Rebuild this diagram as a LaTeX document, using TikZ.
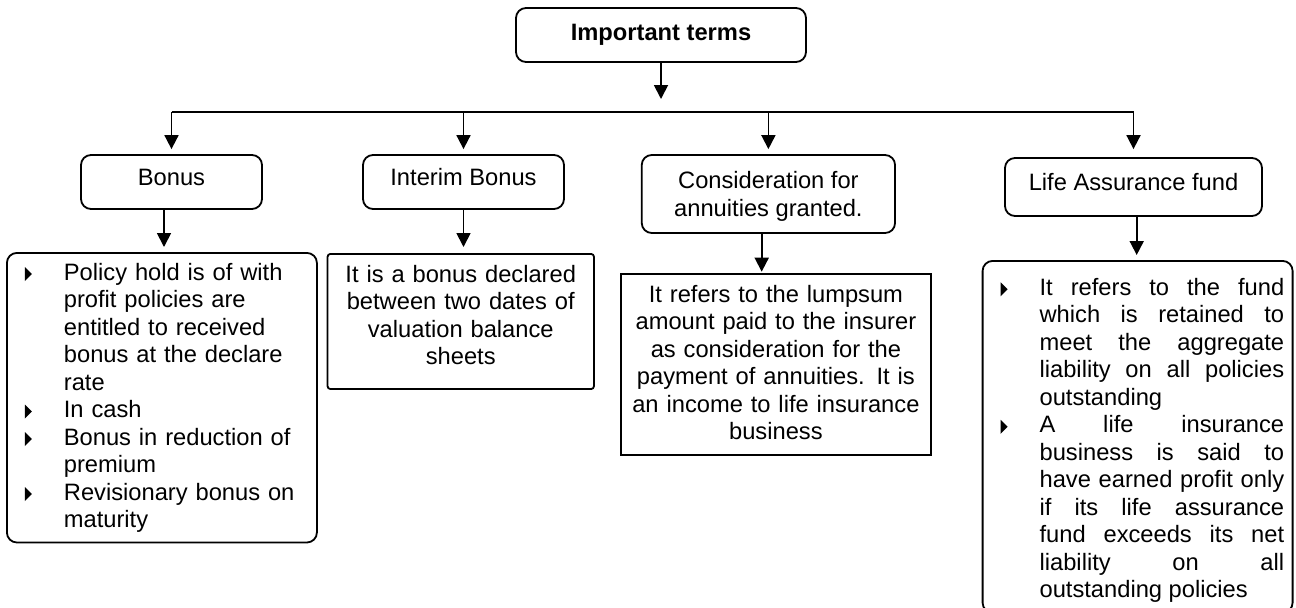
\documentclass[tikz,border=0pt]{standalone}
\usepackage{fontspec}
\setmainfont{Liberation Sans}
\usetikzlibrary{arrows.meta}

% small black triangle used as list bullet
\newcommand{\bultri}{\tikz[baseline=0pt, sharp corners, x=1pt, y=1pt]\fill (0,-0.5)--(3.5,3)--(0,6.5)--cycle;}
% start a bulleted paragraph with a hanging indent
\newcommand{\bitem}{\noindent\hangindent=28.5pt\hangafter=1\makebox[28.5pt][l]{\hspace{9pt}\bultri}}

\tikzset{
  txt/.style={font=\fontsize{11.85pt}{13.75pt}\selectfont},
  headbox/.style={txt, draw, line width=0.9pt, rounded corners=5pt, align=center},
  onebox/.style={headbox, text height=8.5pt, text depth=5.5pt},
  listbox/.style={txt, draw, line width=0.9pt, rounded corners=5pt, anchor=north west,
    inner xsep=0pt, inner ysep=5pt, text width=155pt},
  descbox/.style={txt, draw, line width=0.9pt, anchor=north, align=center,
    inner xsep=4pt, inner ysep=5.6pt},
  arr/.style={line width=0.9pt, -{Triangle[length=7pt,width=7pt]}}
}

\begin{document}
\begin{tikzpicture}[x=0.5pt, y=-0.5pt]
  \useasboundingbox (0,0) rectangle (1296,607);

  % root
  \node[headbox, minimum width=145pt, minimum height=27pt, font=\fontsize{11.85pt}{13.75pt}\selectfont\bfseries]
    (top) at (661,35) {Important terms};
  \coordinate (split) at (661,99);
  \coordinate (hl) at (173,112);

  % second level
  \node[onebox, minimum width=90.5pt, minimum height=27pt] (bonus) at (171.5,182) {Bonus};
  \node[onebox, minimum width=100.5pt, minimum height=27pt] (interim) at (463.5,182) {Interim Bonus};
  \node[headbox, minimum width=126.65pt, minimum height=39pt] (consid) at (768.4,194)
    {Consideration for\\\raisebox{0pt}[\height][0pt]{annuities granted.}};
  \node[onebox, minimum width=128.5pt, minimum height=29pt] (life) at (1133.5,187) {Life Assurance fund};

  % third level
  \node[listbox] (bonuslist) at (6,252) {%
    \hyphenpenalty=10000 \tolerance=10000 \rightskip=0pt plus 1fil
    \bitem Policy hold is of with\newline profit policies are\newline entitled to received\newline bonus at the declare\newline rate
    \par\bitem In cash
    \par\bitem Bonus in reduction of\newline premium
    \par\bitem Revisionary bonus on\newline maturity\par};

  \node[descbox, rounded corners=1.5pt, text width=125.25pt] (intdesc) at (460.75,253)
    {It is a bonus declared\\between two dates of\\valuation balance\\sheets\rule[-6.55pt]{0pt}{0pt}};

  \node[descbox, text width=147.15pt] (consdesc) at (775.9,273)
    {It refers to the lumpsum\\amount paid to the insurer\\as consideration for the\\payment of annuities. It is\\an income to life insurance\\business\rule[-2pt]{0pt}{0pt}};

  \node[listbox, align=justify, minimum height=173pt] (lifelist) at (981.7,260) {%
    \hyphenpenalty=10000 \tolerance=10000 \rightskip=4.2pt
    \bitem\rule{0pt}{12.2pt}It refers to the fund\linebreak which is retained to\linebreak meet the aggregate\linebreak liability on all policies\linebreak outstanding
    \par\bitem A life insurance\linebreak business is said to\linebreak have earned profit only\linebreak if its life assurance\linebreak fund exceeds its net\linebreak liability on all\linebreak outstanding policies\par};

  % connectors
  \draw[arr] (top.south) -- (split);
  \draw[line width=0.9pt] (bonus.north |- hl) -- (life.north |- hl);
  \draw[arr, shorten >=2.5pt] (bonus.north |- hl) -- (bonus.north);
  \draw[arr, shorten >=2.5pt] (interim.north |- hl) -- (interim.north);
  \draw[arr, shorten >=2.5pt] (consid.north |- hl) -- (consid.north);
  \draw[arr, shorten >=4pt] (life.north |- hl) -- (life.north);

  \draw[arr, shorten >=2.5pt] ([xshift=-3.75pt]bonus.south) -- ([xshift=-3.75pt]bonus.south |- bonuslist.north);
  \draw[arr, shorten >=3pt] (interim.south) -- (interim.south |- intdesc.north);
  \draw[arr, shorten >=0.65pt] ([xshift=-3.35pt]consid.south) -- ([xshift=-3.35pt]consid.south |- consdesc.north);
  \draw[arr, shorten >=2.5pt] ([xshift=1.6pt]life.south) -- ([xshift=1.6pt]life.south |- lifelist.north);
\end{tikzpicture}
\end{document}
